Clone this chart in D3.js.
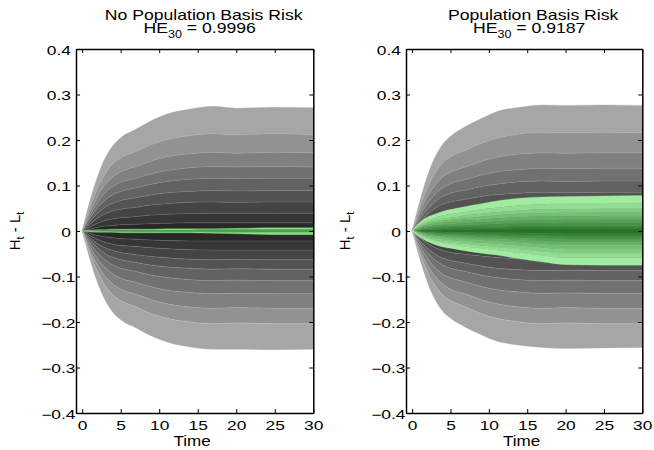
<!DOCTYPE html>
<html><head><meta charset="utf-8">
<script src="https://cdn.jsdelivr.net/npm/d3@7"></script>
<style>
body{margin:0;background:#fff;}
svg{display:block;}
text{font-family:"Liberation Sans", Arial, Helvetica, sans-serif; fill:#000;}
</style></head><body>
<svg id="c" width="654" height="450"></svg>
<script>
// ---------- data ----------
const times = [0,1,2,3,4,5,7,9,11,14,17,20,25,30];
const xTicks = [0,5,10,15,20,25,30];
const xTickLabels = ["0","5","10","15","20","25","30"];
const yTicks = [-0.4,-0.3,-0.2,-0.1,0,0.1,0.2,0.3,0.4];
const yTickLabels = ["\u22120.4","\u22120.3","\u22120.2","\u22120.1","0","0.1","0.2","0.3","0.4"];
const panelTitles = ["No Population Basis Risk","Population Basis Risk"];
const heValues = ["0.9996","0.9187"];

// quantile boundaries of H_t - L_t (top to bottom), unhedged (gray)
const leftGray = [
[0,.066,.120,.161,.188,.205,.224,.243,.257,.268,.274,.270,.272,.271],
[0,.051,.094,.126,.148,.161,.175,.190,.201,.210,.214,.212,.214,.212],
[0,.042,.076,.102,.119,.130,.142,.154,.163,.170,.173,.171,.173,.172],
[0,.034,.062,.084,.098,.107,.116,.126,.133,.139,.142,.141,.142,.141],
[0,.028,.051,.068,.080,.087,.095,.103,.109,.114,.116,.115,.116,.116],
[0,.021,.039,.053,.061,.067,.073,.079,.084,.087,.089,.088,.089,.089],
[0,.015,.028,.038,.044,.048,.052,.057,.060,.063,.064,.063,.064,.064],
[0,.009,.017,.023,.027,.029,.032,.035,.037,.038,.039,.039,.039,.039],
[0,.004,.008,.011,.012,.014,.015,.016,.017,.018,.018,.018,.018,.018],
[0,-.005,-.010,-.013,-.015,-.017,-.018,-.020,-.021,-.022,-.022,-.022,-.022,-.022],
[0,-.010,-.018,-.025,-.029,-.032,-.034,-.037,-.039,-.041,-.042,-.042,-.042,-.042],
[0,-.015,-.028,-.037,-.043,-.047,-.052,-.056,-.059,-.062,-.063,-.062,-.063,-.063],
[0,-.020,-.037,-.050,-.058,-.063,-.069,-.075,-.079,-.082,-.084,-.083,-.084,-.084],
[0,-.026,-.048,-.064,-.075,-.082,-.089,-.097,-.102,-.107,-.109,-.108,-.109,-.109],
[0,-.033,-.061,-.081,-.095,-.104,-.113,-.123,-.130,-.135,-.138,-.137,-.138,-.138],
[0,-.041,-.075,-.100,-.117,-.128,-.139,-.151,-.160,-.167,-.170,-.168,-.170,-.170],
[0,-.049,-.090,-.120,-.141,-.153,-.167,-.182,-.192,-.200,-.204,-.202,-.204,-.204],
[0,-.062,-.114,-.153,-.179,-.195,-.213,-.231,-.244,-.255,-.260,-.260,-.261,-.260]
];
// hedged (green), left panel
const leftGreen = [
[0,.002,.003,.003,.004,.004,.004,.004,.005,.005,.005,.006,.007,.007],
[0,.0007,.001,.0012,.0015,.0015,.002,.002,.002,.002,.0025,.0025,.003,.003],
[0,-.0007,-.001,-.0012,-.0015,-.0015,-.002,-.002,-.002,-.002,-.0025,-.003,-.003,-.003],
[0,-.002,-.003,-.003,-.003,-.004,-.004,-.004,-.004,-.004,-.005,-.006,-.008,-.008]
];
const rightGray = [
[0,.066,.122,.163,.191,.208,.230,.247,.262,.272,.277,.276,.277,.276],
[0,.052,.095,.128,.150,.163,.178,.193,.204,.213,.217,.216,.217,.216],
[0,.041,.076,.101,.119,.129,.141,.153,.162,.169,.172,.171,.172,.172],
[0,.033,.061,.081,.095,.104,.113,.123,.130,.135,.138,.137,.138,.138],
[0,.026,.048,.065,.076,.083,.090,.098,.103,.108,.110,.109,.110,.110],
[0,.020,.037,.050,.059,.064,.070,.076,.080,.083,.085,.084,.085,.085],
[0,.015,.027,.037,.043,.047,.051,.055,.058,.061,.062,.062,.062,.062],
[0,.010,.018,.024,.028,.030,.033,.036,.038,.039,.040,.040,.040,.040],
[0,.004,.008,.011,.012,.014,.015,.016,.017,.018,.018,.018,.018,.018],
[0,-.005,-.009,-.012,-.014,-.015,-.016,-.018,-.019,-.020,-.020,-.020,-.020,-.020],
[0,-.010,-.018,-.024,-.028,-.030,-.033,-.036,-.038,-.039,-.040,-.040,-.040,-.040],
[0,-.015,-.027,-.037,-.043,-.047,-.051,-.055,-.058,-.061,-.062,-.062,-.062,-.062],
[0,-.021,-.038,-.051,-.060,-.065,-.071,-.077,-.082,-.085,-.087,-.086,-.087,-.087],
[0,-.026,-.048,-.064,-.075,-.082,-.089,-.097,-.102,-.107,-.109,-.108,-.109,-.109],
[0,-.033,-.060,-.081,-.095,-.103,-.112,-.122,-.129,-.134,-.137,-.136,-.137,-.137],
[0,-.041,-.075,-.100,-.117,-.128,-.139,-.151,-.160,-.167,-.170,-.168,-.170,-.170],
[0,-.049,-.090,-.120,-.141,-.153,-.167,-.182,-.192,-.200,-.204,-.202,-.204,-.204],
[0,-.061,-.113,-.151,-.177,-.192,-.212,-.228,-.242,-.251,-.256,-.258,-.257,-.256]
];
const rightGreen = [
[0,.019,.031,.037,.043,.047,.054,.060,.066,.072,.075,.076,.077,.078],
[0,.015,.024,.029,.034,.037,.042,.047,.051,.056,.059,.060,.060,.061],
[0,.012,.020,.024,.027,.029,.034,.038,.041,.045,.047,.048,.049,.049],
[0,.010,.016,.020,.023,.025,.028,.032,.034,.038,.039,.040,.041,.041],
[0,.008,.013,.016,.018,.020,.023,.025,.028,.030,.032,.032,.033,.033],
[0,.006,.010,.012,.014,.015,.017,.019,.021,.023,.024,.025,.025,.025],
[0,.004,.007,.009,.010,.011,.012,.014,.015,.017,.017,.018,.018,.018],
[0,.003,.004,.005,.006,.007,.008,.008,.009,.010,.011,.011,.011,.011],
[0,.001,.002,.002,.003,.003,.003,.004,.004,.005,.005,.005,.005,.005],
[0,-.001,-.002,-.002,-.003,-.003,-.003,-.004,-.004,-.005,-.005,-.006,-.006,-.006],
[0,-.002,-.004,-.005,-.006,-.006,-.007,-.008,-.009,-.010,-.011,-.012,-.012,-.012],
[0,-.003,-.006,-.007,-.008,-.009,-.010,-.012,-.013,-.015,-.016,-.018,-.018,-.018],
[0,-.004,-.007,-.010,-.011,-.012,-.014,-.016,-.017,-.019,-.022,-.024,-.024,-.024],
[0,-.006,-.010,-.012,-.014,-.016,-.018,-.020,-.022,-.025,-.028,-.031,-.031,-.031],
[0,-.007,-.012,-.016,-.018,-.020,-.023,-.026,-.028,-.032,-.036,-.040,-.040,-.040],
[0,-.009,-.015,-.020,-.023,-.025,-.028,-.032,-.035,-.040,-.045,-.049,-.049,-.049],
[0,-.011,-.018,-.024,-.027,-.030,-.034,-.038,-.042,-.048,-.054,-.059,-.059,-.059],
[0,-.014,-.023,-.030,-.035,-.038,-.044,-.049,-.053,-.061,-.068,-.074,-.075,-.075]
];

// ---------- drawing ----------
const svg = d3.select("#c");
svg.append("rect").attr("width",654).attr("height",450).attr("fill","#fff");

const grayLevels = [40,54,68,83,98,113,128,146,166];
const grayColor = d => `rgb(${grayLevels[d]},${grayLevels[d]},${grayLevels[d]})`;
const greenInterp = d3.interpolateRgb("rgb(36,116,36)", "rgb(160,236,160)");

const panels = [
  {x0:76, x1:313.3, gray:leftGray, green:leftGreen, greenColors:["rgb(140,222,140)","rgb(70,165,70)","rgb(140,222,140)"]},
  {x0:406, x1:642.3, gray:rightGray, green:rightGreen, greenColors:null}
];
const Y0 = 413, Y1 = 49;
const curve = d3.curveMonotoneX;

function stretched(g, x, y, sx, size, anchor){
  return g.append("text")
    .attr("transform", `translate(${x},${y}) scale(${sx},1)`)
    .attr("font-size", size).attr("text-anchor", anchor);
}

panels.forEach((p, pi) => {
  const g = svg.append("g");
  const x = d3.scaleLinear().domain([-0.8, 30]).range([p.x0, p.x1]);
  const y = d3.scaleLinear().domain([-0.4, 0.4]).range([Y0, Y1]);

  const band = (rows, i) => d3.area().curve(curve)
      .x(t => x(t))
      .y0((t, j) => y(rows[i+1][j]))
      .y1((t, j) => y(rows[i][j]));
  const edge = (rows, i) => d3.line().curve(curve).x(t => x(t)).y((t, j) => y(rows[i][j]));

  const nG = p.gray.length - 1, cG = (nG - 1) / 2;
  for (let i = 0; i < nG; i++) {
    g.append("path").datum(times).attr("d", band(p.gray, i))
      .attr("fill", grayColor(Math.abs(i - cG)))
      .attr("stroke", grayColor(Math.abs(i - cG))).attr("stroke-width", 0.3);
  }
  for (let i = 1; i < nG; i++) {
    g.append("path").datum(times).attr("d", edge(p.gray, i))
      .attr("fill","none").attr("stroke","rgba(255,255,255,0.2)").attr("stroke-width",0.7);
  }
  const nR = p.green.length - 1, cR = (nR - 1) / 2;
  for (let i = 0; i < nR; i++) {
    const col = p.greenColors ? p.greenColors[i] : greenInterp(Math.abs(i - cR) / cR);
    g.append("path").datum(times).attr("d", band(p.green, i))
      .attr("fill", col).attr("stroke", col).attr("stroke-width", 0.3);
  }
  if (!p.greenColors) {
    for (let i = 1; i < nR; i++) {
      g.append("path").datum(times).attr("d", edge(p.green, i))
        .attr("fill","none").attr("stroke","rgba(255,255,255,0.15)").attr("stroke-width",0.6);
    }
  }

  // axes
  const styleAxis = sel => {
    sel.attr("font-size", null).attr("font-family", null);
    sel.select(".domain").attr("stroke","#000").attr("stroke-width",1.5);
    sel.selectAll(".tick line").attr("stroke","#000").attr("stroke-width",1);
  };
  const tsx = 1.45;
  const gb = g.append("g").attr("transform", `translate(0,${Y0})`)
    .call(d3.axisBottom(x).tickValues(xTicks).tickFormat((d,i)=>xTickLabels[i])
      .tickSizeInner(-4).tickSizeOuter(0).tickPadding(8.5));
  styleAxis(gb);
  gb.selectAll(".tick text").attr("font-size",12).attr("transform",`scale(${tsx},1)`);

  const gt = g.append("g").attr("transform", `translate(0,${Y1})`)
    .call(d3.axisTop(x).tickValues(xTicks).tickFormat("").tickSizeInner(-4).tickSizeOuter(0));
  styleAxis(gt);

  const gl = g.append("g").attr("transform", `translate(${p.x0},0)`)
    .call(d3.axisLeft(y).tickValues(yTicks).tickFormat((d,i)=>yTickLabels[i])
      .tickSizeInner(-4).tickSizeOuter(0).tickPadding(5));
  styleAxis(gl);
  gl.selectAll(".tick text").attr("font-size",12).attr("dy","0.42em")
    .attr("x", d => d < 0 ? -0.5/tsx : -5/tsx)
    .attr("transform",`scale(${tsx},1)`);

  const gr = g.append("g").attr("transform", `translate(${p.x1},0)`)
    .call(d3.axisRight(y).tickValues(yTicks).tickFormat("").tickSizeInner(-4).tickSizeOuter(0));
  styleAxis(gr);

  // titles
  const cx = (p.x0 + p.x1) / 2;
  stretched(g, cx + 9, 19.5, 1.26, 14, "middle").text(panelTitles[pi]);
  const t2 = stretched(g, cx + 5, 32.5, 1.26, 14, "middle");
  t2.append("tspan").text("HE");
  t2.append("tspan").attr("font-size",10).attr("dy",5).text("30");
  t2.append("tspan").attr("dy",-5).text(" = " + heValues[pi]);

  // x label
  stretched(g, cx - 2.5, 446, 1.22, 14, "middle").text("Time");

  // y label
  const yl = g.append("text")
    .attr("transform", `translate(${p.x0 - 56.5},231) rotate(-90)`)
    .attr("font-size", 15).attr("text-anchor","middle");
  yl.append("tspan").text("H");
  yl.append("tspan").attr("font-size",11).attr("dy",4).text("t");
  yl.append("tspan").attr("dy",-4).text(" - L");
  yl.append("tspan").attr("font-size",11).attr("dy",4).text("t");
});
</script>
</body></html>
